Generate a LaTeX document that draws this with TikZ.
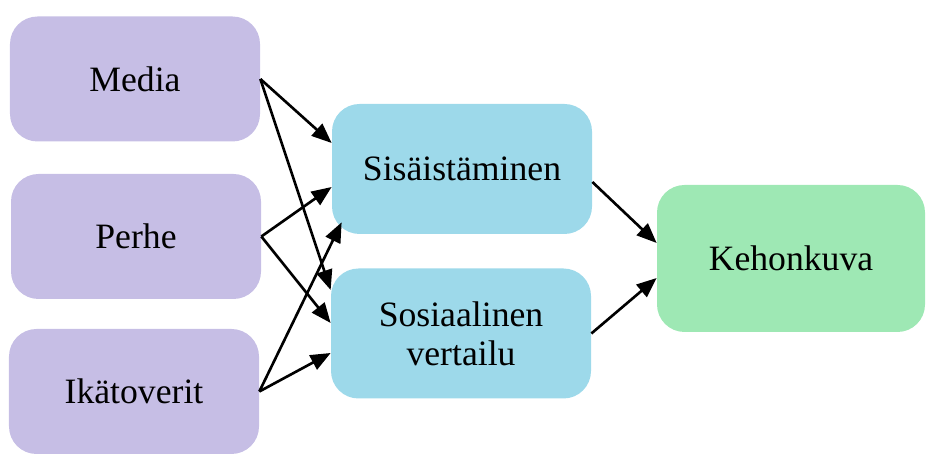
\documentclass[tikz,border=0pt]{standalone}
\usepackage{fontspec}
\setmainfont{Liberation Serif}
\usetikzlibrary{arrows.meta, positioning}

\definecolor{lavender}{RGB}{198,190,229}
\definecolor{skyblue}{RGB}{157,217,234}
\definecolor{mint}{RGB}{158,232,180}

\begin{document}
\begin{tikzpicture}[x=1cm, y=1cm,
    box/.style={rounded corners=0.55cm, inner sep=0pt, align=center,
                font=\fontsize{20.3}{22}\selectfont},
    cause/.style={box, fill=lavender, minimum width=5.0cm, minimum height=2.5cm},
    mid/.style={box, fill=skyblue, minimum width=5.2cm, minimum height=2.6cm},
    result/.style={box, fill=mint, minimum width=5.36cm, minimum height=2.94cm},
    every edge/.style={draw, line width=1.5pt, -{Triangle[length=0.4cm, width=0.32cm]}}]

    \useasboundingbox (0,0) rectangle (18.54,9.1);

    \node [cause] (media) at (2.70, 7.52) {Media};
    \node [cause] (perhe) at (2.72, 4.37) {Perhe};
    \node [cause] (ika)   at (2.68, 1.27) {Ikätoverit};
    \node [mid] (sis) at (9.24, 5.72) {Sisäistäminen};
    \node [mid] (sos) at (9.22, 2.43) {Sosiaalinen\\vertailu};
    \node [result] (keh) at (15.82, 3.93) {Kehonkuva};

 \path
      (media.east) edge ([yshift=0.52cm]sis.west)
      (media.east) edge ([yshift=0.87cm]sos.west)
      (perhe.east) edge ([yshift=-0.36cm]sis.west)
      (perhe.east) edge ([yshift=0.21cm]sos.west)
      (ika.east) edge ([shift={(0.2,0.24)}]sis.south west)
      (ika.east) edge ([yshift=-0.39cm]sos.west)
      ([yshift=-0.26cm]sis.east) edge ([yshift=0.31cm]keh.west)
      (sos.east) edge ([yshift=-0.39cm]keh.west);
\end{tikzpicture}
\end{document}
